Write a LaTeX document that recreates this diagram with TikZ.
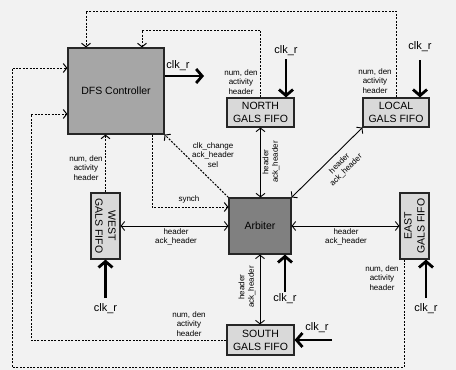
\documentclass[tikz,border=0pt]{standalone}
\usepackage{fontspec}
\setmainfont{Liberation Sans}
\usetikzlibrary{arrows.meta}
\definecolor{canvas}{HTML}{F2F2F2}
\definecolor{ctrlgray}{HTML}{A6A6A6}
\definecolor{arbgray}{HTML}{808080}
\definecolor{fifogray}{HTML}{D9D9D9}

\begin{document}
\begin{tikzpicture}[
  x=1pt,y=-1pt,
  block/.style={draw=black!85,line width=1.2pt,inner sep=0pt,align=center,font=\fontsize{10.5}{13}\selectfont},
  fifo/.style={block,fill=fifogray},
  ctl/.style={-{Straight Barb[length=3.5pt,width=9pt]},dash pattern=on 2pt off 1.4pt,line width=1pt},
  bus/.style={{Straight Barb[length=3.5pt,width=9pt]}-{Straight Barb[length=3.5pt,width=9pt]},line width=.9pt},
  clk/.style={-{Straight Barb[length=6pt,width=14pt]},line width=2.8pt},
  clklbl/.style={font=\fontsize{11}{12}\selectfont,inner sep=0pt},
  note/.style={font=\fontsize{8}{9.3}\selectfont,align=center,inner sep=0pt}
]
  \useasboundingbox (0,0) rectangle (456,370);
  \fill[canvas] (0,0) rectangle (456,370);

  % blocks
  \node[block,fill=ctrlgray,minimum width=96pt,minimum height=86pt] (dfs) at (116,91) {DFS Controller};
  \node[block,fill=arbgray,minimum width=62pt,minimum height=56pt] (arb) at (260,226) {Arbiter};
  \node[fifo,minimum width=67pt,minimum height=29pt] (north) at (260.5,112.5) {NORTH\\GALS FIFO};
  \node[fifo,minimum width=66pt,minimum height=29pt] (local) at (396,112.5) {LOCAL\\GALS FIFO};
  \node[fifo,rotate=-90,minimum width=66pt,minimum height=29pt] (west) at (105.5,226) {WEST\\GALS FIFO};
  \node[fifo,rotate=90,minimum width=66pt,minimum height=29pt] (east) at (414.5,226) {EAST\\GALS FIFO};
  \node[fifo,minimum width=67pt,minimum height=30pt] (south) at (260.5,340) {SOUTH\\GALS FIFO};

  % corner points of the control loops
  \coordinate (topA) at (86,11);
  \coordinate (topB) at (142,30);
  \coordinate (outL) at (12,68);
  \coordinate (eDrop) at (404,367);
  \coordinate (inL) at (31,114);
  \coordinate (syn) at (152,207);

  \draw[ctl] (local.north) |- (topA) -- (topA |- dfs.north);
  \draw[ctl] (north.north) |- (topB) -- (topB |- dfs.north);
  \draw[ctl] (eDrop |- east.west) -- (eDrop) -| (outL) -- (outL -| dfs.west);
  \draw[ctl] (south.west) -| (inL) -- (inL -| dfs.west);
  \draw[ctl] (west.west) -- (west.west |- dfs.south);
  \draw[ctl] (syn |- dfs.south) -- (syn) -- (syn -| arb.west);
  \draw[ctl] (arb.north west) -- (dfs.south east);

  % data paths
  \draw[bus] (north.south) -- (north.south |- arb.north);
  \draw[bus] (arb.north east) -- (local.south west);
  \draw[bus] (west.north) -- (arb.west);
  \draw[bus] (arb.east) -- (east.north);
  \draw[bus] (arb.south) -- (arb.south |- south.north);

  % clocks
  \coordinate (ckD) at (204,76);
  \coordinate (ckN) at (286,59);
  \coordinate (ckL) at (420,60);
  \coordinate (ckW) at (105.5,298);
  \coordinate (ckA) at (285,292);
  \coordinate (ckE) at (426,298);
  \coordinate (ckS) at (332,340);
  \draw[clk] (ckD -| dfs.east) -- (ckD);
  \draw[clk] (ckN) -- (ckN |- north.north);
  \draw[clk] (ckL) -- (ckL |- local.north);
  \draw[clk] (ckW) -- (west.east);
  \draw[clk] (ckA) -- (ckA |- arb.south);
  \draw[clk] (ckE) -- (ckE |- east.west);
  \draw[clk] (ckS) -- (south.east);
  \node[clklbl] (lD) at (178,66) {clk\_r};
  \node[clklbl] (lN) at (286,51) {clk\_r};
  \node[clklbl] (lL) at (420,47) {clk\_r};
  \node[clklbl] (lW) at (105.5,309) {clk\_r};
  \node[clklbl] (lA) at (285,299) {clk\_r};
  \node[clklbl] (lE) at (426,309) {clk\_r};
  \node[clklbl] (lS) at (317,328) {clk\_r};

  % signal names
  \node[note] (nNorth) at (241,82) {num, den\\activity\\header};
  \node[note] (nLocal) at (375,81) {num, den\\activity\\header};
  \node[note] (nWest) at (86,168) {num, den\\activity\\header};
  \node[note] (nEast) at (382,278) {num, den\\activity\\header};
  \node[note] (nSouth) at (189,324) {num, den\\activity\\header};
  \node[note] (nSel) at (213,155) {clk\_change\\ack\_header\\sel};
  \node[note] (nSynch) at (189,199) {synch};
  \node[note] (bWest) at (176,237) {header\\ack\_header};
  \node[note] (bEast) at (346,237) {header\\ack\_header};
  \node[note,rotate=90] (bNorth) at (271,162) {header\\ack\_header};
  \node[note,rotate=90] (bSouth) at (247,287) {header\\ack\_header};
  \node[note,rotate=45] (bLocal) at (343,167) {header\\ack\_header};
\end{tikzpicture}
\end{document}
